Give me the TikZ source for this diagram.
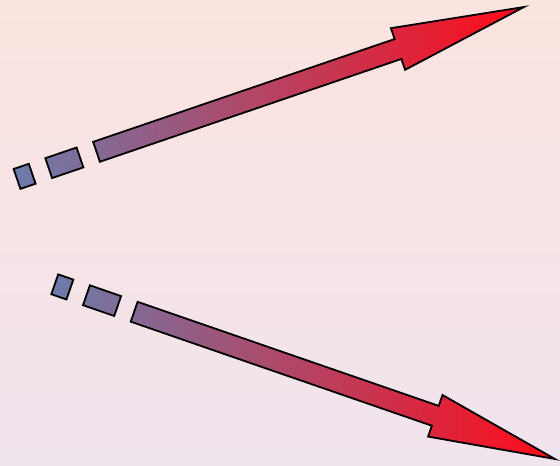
\documentclass[tikz,border=0pt]{standalone}
\begin{document}
\begin{tikzpicture}[x=1pt,y=-1pt,
  arrowshape/.style={draw=black,line width=1.8pt,line join=miter,
    left color={rgb,255:red,108;green,124;blue,172},
    middle color={rgb,255:red,198;green,86;blue,124},
    right color={rgb,255:red,255;green,10;blue,24}}]
\useasboundingbox (0,0) rectangle (560,466);
\shade[top color={rgb,255:red,252;green,228;blue,223},bottom color={rgb,255:red,240;green,228;blue,238}] (0,0) rectangle (560,466);
% top arrow
\shade[arrowshape]
  (13.64,168.99) -- (28.79,163.82) -- (35.57,183.70) -- (20.42,188.87) -- cycle
  (45.35,158.17) -- (76.59,147.52) -- (83.37,167.40) -- (52.13,178.05) -- cycle
  (93.15,141.87) -- (394.61,39.06) -- (390.90,28.18) -- (524,7) -- (405.10,69.82) -- (401.39,58.94) -- (99.93,161.75) -- cycle;
% bottom arrow
\shade[arrowshape]
  (58.21,274.37) -- (73.33,279.60) -- (66.47,299.46) -- (51.35,294.23) -- cycle
  (89.88,285.32) -- (121.08,296.10) -- (114.22,315.96) -- (83.02,305.18) -- cycle
  (137.62,301.82) -- (438.73,405.87) -- (442.49,395.00) -- (555,459) -- (428.11,436.60) -- (431.87,425.73) -- (130.76,321.68) -- cycle;
\end{tikzpicture}
\end{document}
